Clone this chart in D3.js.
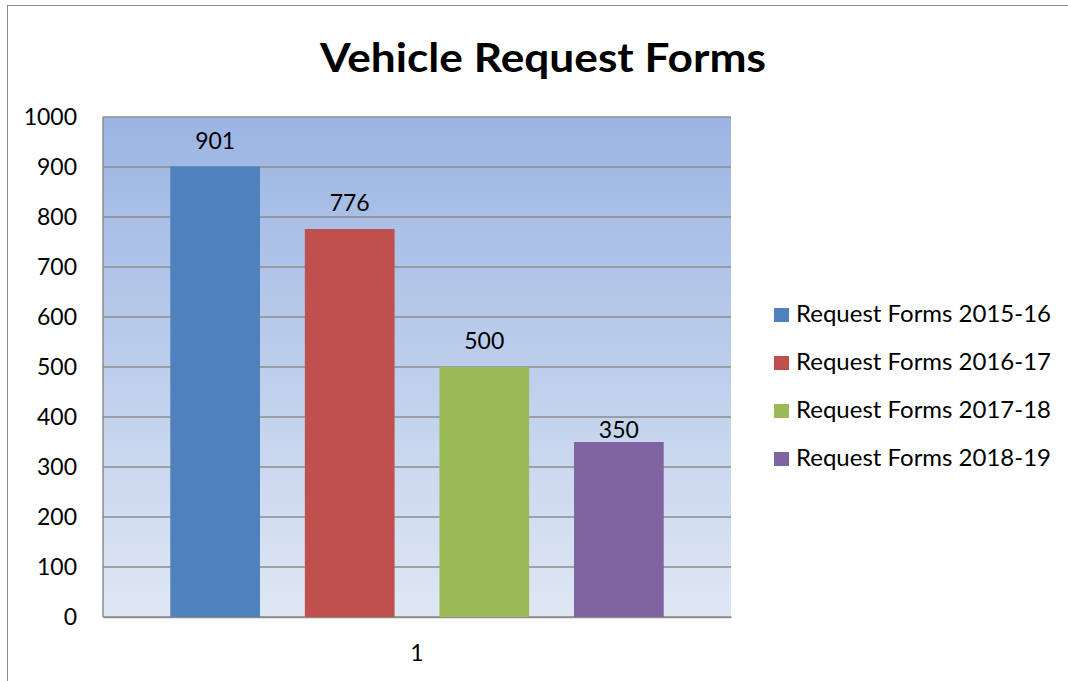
<!DOCTYPE html>
<html>
<head>
<meta charset="utf-8">
<script src="https://cdn.jsdelivr.net/npm/d3@7"></script>
<style>
  html, body { margin: 0; padding: 0; background: #fff; }
  svg { display: block; font-family: Lato, "Open Sans", sans-serif; }
</style>
</head>
<body>
<div id="chart"></div>
<script>
// ── Data ────────────────────────────────────────────────────────────────────
const categories = ['1'];
const seriesNames = ['Request Forms 2015-16', 'Request Forms 2016-17', 'Request Forms 2017-18', 'Request Forms 2018-19'];
const seriesValues = [901, 776, 500, 350];
const yTicks = [0, 100, 200, 300, 400, 500, 600, 700, 800, 900, 1000];

// styling (kept apart from the data)
const colors = ['#4F81BD', '#C0504D', '#9BBB59', '#8064A2'];
const labelGap = [18, 18, 18, 4];

const W = 1068, H = 681;
const plot = { left: 103, top: 117, right: 731, bottom: 617 };
const FS = 23;

const svg = d3.select('#chart').append('svg')
  .attr('width', W)
  .attr('height', H);

// chart border (runs past the right and bottom edges of the picture)
svg.append('rect')
  .attr('x', 7.5).attr('y', 5.5)
  .attr('width', W + 20).attr('height', H + 20)
  .attr('fill', '#fff')
  .attr('stroke', '#8a8a8a')
  .attr('stroke-width', 1);

// plot background gradient
const grad = svg.append('defs').append('linearGradient')
  .attr('id', 'bg').attr('x1', 0).attr('y1', 0).attr('x2', 0).attr('y2', 1);
grad.append('stop').attr('offset', '0%').attr('stop-color', '#9BB5E3');
grad.append('stop').attr('offset', '100%').attr('stop-color', '#DFE7F4');

// Scales
const x0 = d3.scaleBand().domain(categories).range([plot.left, plot.right]);
const x1 = d3.scaleBand().domain(seriesNames)
  .range([0, x0.bandwidth()])
  .paddingInner(1 / 3)
  .paddingOuter(0.5);
const y = d3.scaleLinear().domain([0, 1000]).range([plot.bottom, plot.top]);

svg.append('rect')
  .attr('x', plot.left).attr('y', plot.top)
  .attr('width', plot.right - plot.left)
  .attr('height', plot.bottom - plot.top)
  .attr('fill', 'url(#bg)');

// gridlines
svg.append('g')
  .selectAll('line')
  .data(yTicks)
  .join('line')
  .attr('x1', plot.left).attr('x2', plot.right)
  .attr('y1', d => y(d)).attr('y2', d => y(d))
  .attr('stroke', '#8c8c8c')
  .attr('stroke-width', 1.5);

// left border of plot
svg.append('line')
  .attr('x1', plot.left).attr('x2', plot.left)
  .attr('y1', plot.top).attr('y2', plot.bottom)
  .attr('stroke', '#8c8c8c').attr('stroke-width', 1.5);

// y axis
const yAxis = svg.append('g')
  .attr('transform', `translate(${plot.left},0)`)
  .call(d3.axisLeft(y).tickValues(yTicks).tickFormat(d3.format('d')).tickSize(0).tickPadding(26));
yAxis.select('.domain').remove();
yAxis.selectAll('text')
  .attr('fill', '#000')
  .style('font-size', FS + 'px')
  .style('font-family', 'Lato, sans-serif');

// x axis
const xAxis = svg.append('g')
  .attr('transform', `translate(0,${plot.bottom})`)
  .call(d3.axisBottom(x0).tickSize(0).tickPadding(28));
xAxis.select('.domain')
  .attr('stroke', '#8c8c8c').attr('stroke-width', 1.5);
xAxis.selectAll('text')
  .attr('fill', '#000')
  .style('font-size', FS + 'px')
  .style('font-family', 'Lato, sans-serif');

// bars
const bars = seriesNames.map((name, i) => ({ category: categories[0], name, value: seriesValues[i], i }));

svg.append('g')
  .selectAll('rect')
  .data(bars)
  .join('rect')
  .attr('x', d => x0(d.category) + x1(d.name))
  .attr('y', d => y(d.value))
  .attr('width', x1.bandwidth())
  .attr('height', d => y(0) - y(d.value))
  .attr('fill', d => colors[d.i]);

// data labels
svg.append('g')
  .selectAll('text')
  .data(bars)
  .join('text')
  .attr('x', d => x0(d.category) + x1(d.name) + x1.bandwidth() / 2)
  .attr('y', d => y(d.value) - labelGap[d.i])
  .attr('text-anchor', 'middle')
  .style('font-size', FS + 'px')
  .text(d => d.value);

// title
svg.append('text')
  .attr('x', 543).attr('y', 72)
  .attr('text-anchor', 'middle')
  .style('font-size', '40px')
  .style('font-weight', 'bold')
  .attr('textLength', 446)
  .attr('lengthAdjust', 'spacingAndGlyphs')
  .text('Vehicle Request Forms');

// legend
const legend = svg.append('g')
  .selectAll('g')
  .data(seriesNames)
  .join('g')
  .attr('transform', (d, i) => `translate(774,${322 + i * 48})`);

legend.append('rect')
  .attr('x', 0).attr('y', -14)
  .attr('width', 15).attr('height', 14)
  .attr('fill', (d, i) => colors[i]);

legend.append('text')
  .attr('x', 22).attr('y', 0)
  .style('font-size', FS + 'px')
  .attr('textLength', 255)
  .attr('lengthAdjust', 'spacingAndGlyphs')
  .text(d => d);
</script>
</body>
</html>
